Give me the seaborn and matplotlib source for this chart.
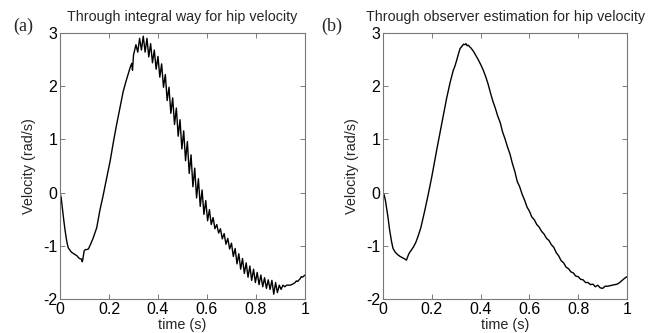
import numpy as np
import pandas as pd
import matplotlib
matplotlib.use("Agg")
import matplotlib.pyplot as plt
import seaborn as sns

# ---- (a) integral way: smooth start, oscillating descent, tail ----
t_a_start = [0, 0.005, 0.01, 0.015, 0.02, 0.025, 0.03, 0.034, 0.04, 0.045, 0.05, 0.06,
             0.07, 0.075, 0.08, 0.088, 0.091, 0.093, 0.096, 0.099, 0.105, 0.11, 0.116,
             0.125, 0.135, 0.15, 0.163, 0.175, 0.19, 0.205, 0.218, 0.23, 0.245, 0.258,
             0.27, 0.279, 0.287, 0.293, 0.296, 0.3, 0.305]
v_a_start = [0, -0.1, -0.3, -0.5, -0.68, -0.84, -0.97, -1.04, -1.08, -1.11, -1.13, -1.16,
             -1.19, -1.22, -1.24, -1.25, -1.3, -1.26, -1.18, -1.09, -1.07, -1.07, -1.06,
             -0.97, -0.86, -0.66, -0.33, -0.08, 0.26, 0.6, 0.95, 1.25, 1.6, 1.9,
             2.1, 2.24, 2.36, 2.43, 2.3, 2.58, 2.68]

# sampled every 7.5 ms from 0.31 s
osc_step = 0.0075
v_a_osc = [2.78, 2.64, 2.90, 2.68, 2.94, 2.64, 2.90, 2.55, 2.80, 2.44,
           2.68, 2.32, 2.56, 2.17, 2.42, 1.98, 2.22, 1.73, 1.98, 1.49,
           1.78, 1.28, 1.59, 1.06, 1.37, 0.82, 1.16, 0.60, 0.96, 0.36,
           0.71, 0.11, 0.46, -0.10, 0.26, -0.26, 0.05, -0.41, -0.15, -0.53,
           -0.32, -0.60, -0.47, -0.68, -0.60, -0.76, -0.68, -0.87, -0.77, -0.97,
           -0.86, -1.06, -0.95, -1.20, -1.05, -1.34, -1.15, -1.44, -1.24, -1.52,
           -1.32, -1.59, -1.38, -1.65, -1.44, -1.69, -1.50, -1.73, -1.55, -1.77,
           -1.60, -1.80, -1.64, -1.82, -1.65, -1.91, -1.69, -1.88, -1.74, -1.82,
           -1.74, -1.77, -1.74]
t_a_osc = list(np.round(0.31 + osc_step * np.arange(len(v_a_osc)), 4))

t_a_tail = [0.94, 0.95, 0.96, 0.965, 0.97, 0.98, 0.985, 0.99, 1.0]
v_a_tail = [-1.74, -1.72, -1.69, -1.66, -1.67, -1.62, -1.58, -1.59, -1.55]

# ---- (b) observer estimation ----
t_b = [0, 0.005, 0.01, 0.015, 0.02, 0.027, 0.035, 0.041, 0.05, 0.061, 0.07, 0.082,
       0.09, 0.096, 0.1, 0.105, 0.11, 0.116, 0.125, 0.135, 0.143, 0.155, 0.171, 0.185,
       0.2, 0.22, 0.24, 0.261, 0.275, 0.288, 0.295, 0.302, 0.31, 0.316, 0.32, 0.325,
       0.33, 0.336, 0.34, 0.345, 0.35, 0.355,
       0.36, 0.37, 0.38, 0.39, 0.40, 0.41, 0.42, 0.43, 0.44, 0.45, 0.46, 0.47, 0.48,
       0.49, 0.50, 0.51, 0.52, 0.53, 0.54, 0.55, 0.56, 0.57, 0.58, 0.59, 0.60, 0.61,
       0.62, 0.63, 0.64, 0.65, 0.66, 0.67, 0.68, 0.69, 0.70, 0.71, 0.72, 0.73, 0.74,
       0.75, 0.76, 0.77, 0.78, 0.79, 0.80, 0.81, 0.82, 0.83, 0.84, 0.85, 0.86, 0.87,
       0.88, 0.89, 0.90, 0.91, 0.92, 0.93, 0.94, 0.95, 0.96, 0.97, 0.98, 0.99, 1.00]
v_b = [0, -0.05, -0.15, -0.3, -0.45, -0.7, -0.92, -1.05, -1.12, -1.17, -1.2, -1.23,
       -1.25, -1.27, -1.22, -1.16, -1.12, -1.08, -1.02, -0.93, -0.83, -0.66, -0.34, -0.04,
       0.3, 0.8, 1.28, 1.78, 2.07, 2.30, 2.38, 2.49, 2.62, 2.71, 2.73, 2.76,
       2.79, 2.78, 2.80, 2.76, 2.77, 2.74,
       2.72, 2.66, 2.58, 2.50, 2.41, 2.31, 2.19, 2.05, 1.88, 1.72, 1.59, 1.44, 1.32,
       1.14, 1.01, 0.86, 0.73, 0.55, 0.40, 0.21, 0.11, -0.03, -0.14, -0.27, -0.35, -0.46,
       -0.51, -0.60, -0.65, -0.73, -0.78, -0.86, -0.90, -0.98, -1.03, -1.13, -1.19, -1.28, -1.32,
       -1.40, -1.43, -1.49, -1.51, -1.57, -1.58, -1.63, -1.64, -1.69, -1.69, -1.73, -1.72, -1.77,
       -1.74, -1.79, -1.80, -1.76, -1.76, -1.75, -1.74, -1.73, -1.72, -1.69, -1.65, -1.61, -1.58]

titles = ['Through integral way for hip velocity',
          'Through observer estimation for hip velocity']
panel_tags = ['(a)', '(b)']

df_a = pd.DataFrame({'t': t_a_start + t_a_osc + t_a_tail,
                     'v': v_a_start + v_a_osc + v_a_tail})
df_b = pd.DataFrame({'t': t_b, 'v': v_b})

sns.set_theme(style="ticks")
plt.rcParams['font.family'] = ['Liberation Sans', 'DejaVu Sans']
plt.rcParams['axes.unicode_minus'] = False

fig = plt.figure(figsize=(6.59, 3.33), dpi=100)
ax_a = fig.add_axes([0.0910, 0.1021, 0.3718, 0.7988])
ax_b = fig.add_axes([0.5812, 0.1021, 0.3703, 0.7988])

for ax, df, title in zip([ax_a, ax_b], [df_a, df_b], titles):
    sns.lineplot(data=df, x='t', y='v', ax=ax, color='black', linewidth=1.0,
                 estimator=None, sort=False)
    ax.set_xlim(0, 1)
    ax.set_ylim(-2, 3)
    ax.set_xticks([0, 0.2, 0.4, 0.6, 0.8, 1])
    ax.set_xticklabels(['0', '0.2', '0.4', '0.6', '0.8', '1'])
    ax.set_yticks([-2, -1, 0, 1, 2, 3])
    ax.tick_params(direction='in', length=3.5, width=0.6, color='#666666',
                   labelsize=11.5, labelcolor='black', pad=2,
                   top=True, right=True)
    for s in ax.spines.values():
        s.set_color('#777777')
        s.set_linewidth(0.8)
    ax.set_title(title, fontsize=10.3, pad=8.5)
    ax.set_xlabel('time (s)', fontsize=10.4, labelpad=1)
    ax.set_ylabel('Velocity (rad/s)', fontsize=10.4, labelpad=5)

fig.text(0.035, 0.922, panel_tags[0], family='Liberation Serif', fontsize=13,
         ha='center', va='center')
fig.text(0.503, 0.922, panel_tags[1], family='Liberation Serif', fontsize=13,
         ha='center', va='center')

fig.savefig('out.png', dpi=100)
